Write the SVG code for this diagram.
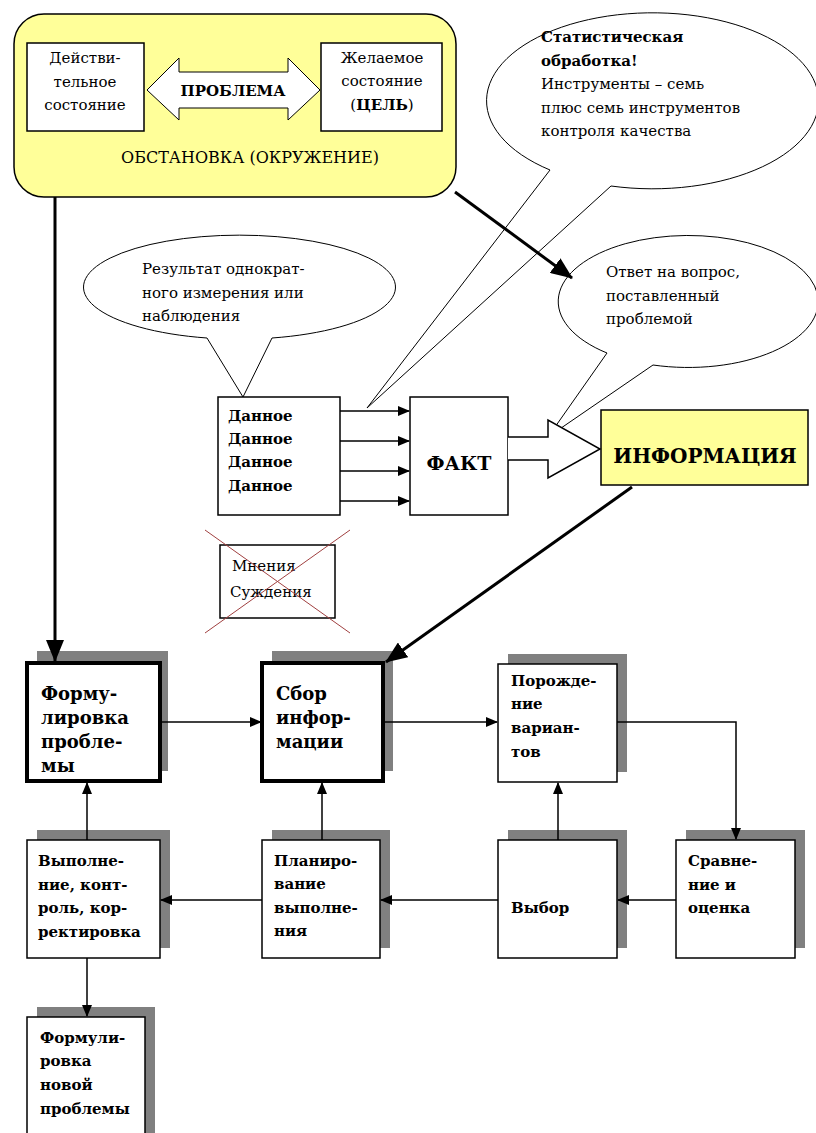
<svg xmlns="http://www.w3.org/2000/svg" width="816" height="1133" viewBox="0 0 816 1133" font-family="'DejaVu Serif', serif">
<style>
text{font-family:'DejaVu Serif','Liberation Serif',serif;fill:#000}
.r15{font-size:15px}
.b15{font-size:15px;font-weight:bold}
.b16{font-size:15px;font-weight:bold}
.b20{font-size:18px;font-weight:bold}
.box{fill:#fff;stroke:#000;stroke-width:1.5}
.thick{fill:#fff;stroke:#000;stroke-width:4}
.sh{fill:#808080}
.ln{fill:none;stroke:#000;stroke-width:1.5}
.tk{fill:none;stroke:#000;stroke-width:3}
.call{fill:#fff;stroke:#000;stroke-width:1}
</style>
<defs>
<marker id="ah" markerUnits="userSpaceOnUse" markerWidth="12" markerHeight="10" refX="11" refY="5" orient="auto"><path d="M0,0 L12,5 L0,10 Z" fill="#000"/></marker>
<marker id="ahb" markerUnits="userSpaceOnUse" markerWidth="22" markerHeight="18" refX="21" refY="9" orient="auto"><path d="M0,0 L22,9 L0,18 Z" fill="#000"/></marker>
</defs>
<rect width="816" height="1133" fill="#fff"/>

<g id="environment">
<rect x="14" y="14" width="442" height="183" rx="30" fill="#FFFF99" stroke="#000" stroke-width="1.5"/>
<text x="250" y="163" text-anchor="middle" font-size="16">ОБСТАНОВКА (ОКРУЖЕНИЕ)</text>
</g>
<g id="actual-state">
<rect class="box" x="27" y="43" width="117" height="88"/>
<text class="r15" text-anchor="middle"><tspan x="85" y="63">Действи-</tspan><tspan x="85" y="87">тельное</tspan><tspan x="85" y="110">состояние</tspan></text>
</g>
<g id="desired-state">
<rect class="box" x="321" y="43" width="121" height="88"/>
<text class="r15" text-anchor="middle"><tspan x="382" y="63">Желаемое</tspan><tspan x="382" y="86">состояние</tspan><tspan x="382" y="110">(<tspan font-weight="bold">ЦЕЛЬ</tspan>)</tspan></text>
</g>
<g id="problem">
<polygon points="147,90 179,58 179,72 288,72 288,58 320,90 288,120 288,108 179,108 179,120" fill="#fff" stroke="#000" stroke-width="1"/>
<text class="b15" x="233" y="96" text-anchor="middle">ПРОБЛЕМА</text>
</g>

<g id="callout-stat">
<path class="call" d="M550,170 L367,408 L611,186 A166 88 0 1 0 550,170 Z"/>
<text class="b15" x="541" y="42">Статистическая</text>
<text class="b15" x="541" y="66">обработка!</text>
<text class="r15" x="541" y="89">Инструменты – семь</text>
<text class="r15" x="541" y="113">плюс семь инструментов</text>
<text class="r15" x="541" y="136">контроля качества</text>
</g>

<g id="callout-data">
<path class="call" d="M207,338 L243,397 L272,338 A156 52 0 1 0 207,338 Z"/>
<text class="r15" x="142" y="274">Результат однократ-</text>
<text class="r15" x="142" y="298">ного измерения или</text>
<text class="r15" x="142" y="321">наблюдения</text>
</g>

<g id="callout-info">
<path class="call" d="M607,353 L548,437 L653,365 A130 66 0 1 0 607,353 Z"/>
<text class="r15" x="606" y="277">Ответ на вопрос,</text>
<text class="r15" x="606" y="301">поставленный</text>
<text class="r15" x="606" y="324">проблемой</text>
</g>

<g id="data">
<rect class="box" x="218" y="397" width="122" height="118"/>
<text class="b16" x="228" y="421">Данное</text>
<text class="b16" x="228" y="444">Данное</text>
<text class="b16" x="228" y="467">Данное</text>
<text class="b16" x="228" y="491">Данное</text>
</g>
<g id="fact">
<rect class="box" x="410" y="397" width="98" height="118"/>
<text x="459" y="470" text-anchor="middle" font-size="19" font-weight="bold">ФАКТ</text>
</g>
<g id="information">
<rect x="601" y="410" width="207" height="75" fill="#FFFF99" stroke="#000" stroke-width="1.5"/>
<text x="705" y="463" text-anchor="middle" font-size="20" font-weight="bold">ИНФОРМАЦИЯ</text>
</g>
<g id="opinions">
<rect class="box" x="220" y="545" width="115" height="73"/>
<text class="r15" x="232" y="571">Мнения</text>
<text class="r15" x="230" y="597">Суждения</text>
<line x1="205" y1="530" x2="350" y2="633" stroke="#a04040" stroke-width="1"/>
<line x1="350" y1="530" x2="205" y2="633" stroke="#a04040" stroke-width="1"/>
</g>

<g id="formulation">
<rect class="sh" x="37" y="651" width="131" height="120"/>
<rect class="thick" x="27" y="663" width="133" height="118"/>
<text class="b20"><tspan x="41" y="700">Форму-</tspan><tspan x="41" y="724">лировка</tspan><tspan x="41" y="748">пробле-</tspan><tspan x="41" y="772">мы</tspan></text>
</g>
<g id="collection">
<rect class="sh" x="272" y="651" width="121" height="120"/>
<rect class="thick" x="262" y="663" width="121" height="118"/>
<text class="b20"><tspan x="276" y="700">Сбор</tspan><tspan x="276" y="724">инфор-</tspan><tspan x="276" y="748">мации</tspan></text>
</g>
<g id="generation">
<rect class="sh" x="508" y="654" width="119" height="118"/>
<rect class="box" x="498" y="664" width="119" height="118"/>
<text class="b16"><tspan x="511" y="686">Порожде-</tspan><tspan x="511" y="709">ние</tspan><tspan x="511" y="733">вариан-</tspan><tspan x="511" y="757">тов</tspan></text>
</g>
<g id="execution">
<rect class="sh" x="37" y="830" width="133" height="118"/>
<rect class="box" x="27" y="840" width="133" height="118"/>
<text class="b16"><tspan x="38" y="866">Выполне-</tspan><tspan x="38" y="890">ние, конт-</tspan><tspan x="38" y="913">роль, кор-</tspan><tspan x="38" y="937">ректировка</tspan></text>
</g>
<g id="planning">
<rect class="sh" x="272" y="830" width="118" height="118"/>
<rect class="box" x="262" y="840" width="118" height="118"/>
<text class="b16"><tspan x="274" y="866">Планиро-</tspan><tspan x="274" y="889">вание</tspan><tspan x="274" y="913">выполне-</tspan><tspan x="274" y="936">ния</tspan></text>
</g>
<g id="choice">
<rect class="sh" x="508" y="830" width="119" height="118"/>
<rect class="box" x="498" y="840" width="119" height="118"/>
<text class="b16" x="511" y="913">Выбор</text>
</g>
<g id="comparison">
<rect class="sh" x="686" y="830" width="119" height="118"/>
<rect class="box" x="676" y="840" width="119" height="118"/>
<text class="b16"><tspan x="688" y="866">Сравне-</tspan><tspan x="688" y="890">ние и</tspan><tspan x="688" y="913">оценка</tspan></text>
</g>
<g id="new-problem">
<rect class="sh" x="37" y="1007" width="118" height="130"/>
<rect class="box" x="27" y="1017" width="118" height="130"/>
<text class="b16"><tspan x="40" y="1043">Формули-</tspan><tspan x="40" y="1066">ровка</tspan><tspan x="40" y="1090">новой</tspan><tspan x="40" y="1114">проблемы</tspan></text>
</g>

<g id="connectors">
<line class="tk" x1="55" y1="197" x2="55" y2="661" marker-end="url(#ahb)"/>
<line class="tk" x1="455" y1="192" x2="572" y2="278" marker-end="url(#ahb)"/>
<line class="tk" x1="632" y1="487" x2="386" y2="662" marker-end="url(#ahb)"/>
<line class="ln" x1="340" y1="411" x2="409" y2="411" marker-end="url(#ah)"/>
<line class="ln" x1="340" y1="441" x2="409" y2="441" marker-end="url(#ah)"/>
<line class="ln" x1="340" y1="471" x2="409" y2="471" marker-end="url(#ah)"/>
<line class="ln" x1="340" y1="501" x2="409" y2="501" marker-end="url(#ah)"/>
<polyline points="508,437 548,437 548,420 600,449 548,478 548,460 508,460" fill="#fff" stroke="#000" stroke-width="1.5"/>
<line class="ln" x1="160" y1="722" x2="261" y2="722" marker-end="url(#ah)"/>
<line class="ln" x1="383" y1="722" x2="497" y2="722" marker-end="url(#ah)"/>
<polyline class="ln" points="617,722 736,722 736,839" marker-end="url(#ah)"/>
<line class="ln" x1="676" y1="900" x2="618" y2="900" marker-end="url(#ah)"/>
<line class="ln" x1="558" y1="840" x2="558" y2="783" marker-end="url(#ah)"/>
<line class="ln" x1="498" y1="900" x2="381" y2="900" marker-end="url(#ah)"/>
<line class="ln" x1="322" y1="840" x2="322" y2="783" marker-end="url(#ah)"/>
<line class="ln" x1="262" y1="900" x2="161" y2="900" marker-end="url(#ah)"/>
<line class="ln" x1="87" y1="840" x2="87" y2="783" marker-end="url(#ah)"/>
<line class="ln" x1="87" y1="958" x2="87" y2="1016" marker-end="url(#ah)"/>
</g>
</svg>
